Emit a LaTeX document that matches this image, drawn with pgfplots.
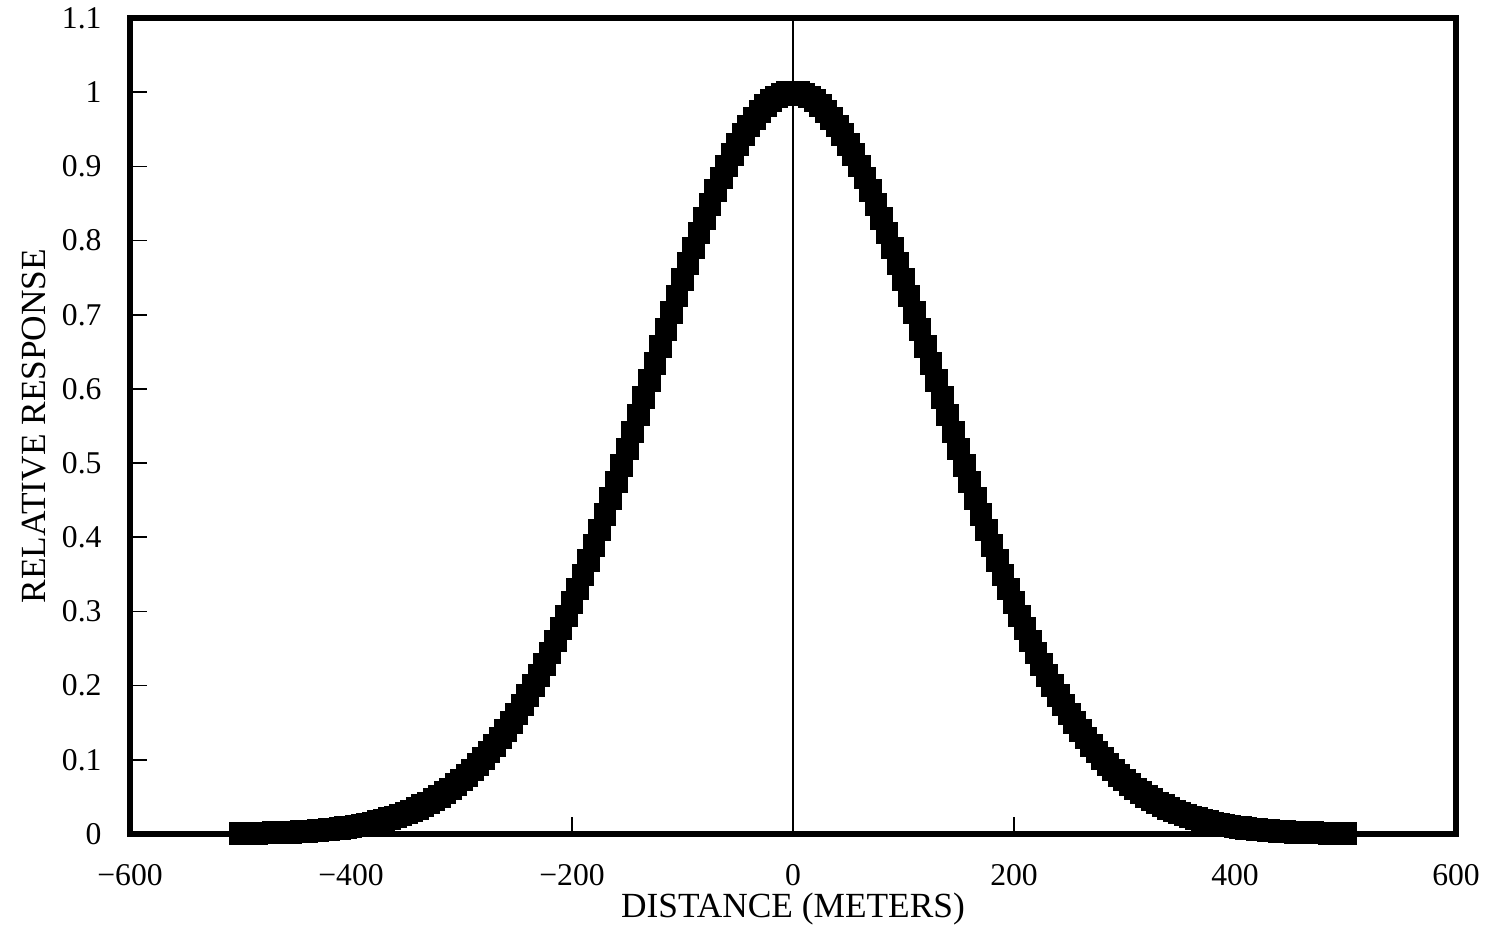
\documentclass[border=0pt]{standalone}
\usepackage{pgfplots}
\usepackage{pgfplotstable}
\pgfplotsset{compat=1.18}
\usepackage{fontspec}
\setmainfont{Liberation Serif}

% response curve, every 5 m
\pgfplotstableread{
x y
-500 0.0007
-495 0.0008
-490 0.0009
-485 0.0011
-480 0.0012
-475 0.0014
-470 0.0016
-465 0.0018
-460 0.0021
-455 0.0024
-450 0.0027
-445 0.0031
-440 0.0036
-435 0.0040
-430 0.0046
-425 0.0052
-420 0.0059
-415 0.0066
-410 0.0075
-405 0.0084
-400 0.0095
-395 0.0106
-390 0.0119
-385 0.0133
-380 0.0149
-375 0.0166
-370 0.0185
-365 0.0206
-360 0.0229
-355 0.0254
-350 0.0282
-345 0.0312
-340 0.0345
-335 0.0380
-330 0.0419
-325 0.0461
-320 0.0506
-315 0.0555
-310 0.0608
-305 0.0665
-300 0.0726
-295 0.0792
-290 0.0863
-285 0.0938
-280 0.1019
-275 0.1104
-270 0.1196
-265 0.1293
-260 0.1395
-255 0.1504
-250 0.1619
-245 0.1740
-240 0.1867
-235 0.2001
-230 0.2141
-225 0.2288
-220 0.2441
-215 0.2601
-210 0.2767
-205 0.2939
-200 0.3118
-195 0.3303
-190 0.3493
-185 0.3689
-180 0.3891
-175 0.4097
-170 0.4308
-165 0.4524
-160 0.4743
-155 0.4966
-150 0.5192
-145 0.5420
-140 0.5649
-135 0.5880
-130 0.6112
-125 0.6343
-120 0.6574
-115 0.6802
-110 0.7029
-105 0.7253
-100 0.7473
-95 0.7688
-90 0.7898
-85 0.8102
-80 0.8299
-75 0.8488
-70 0.8670
-65 0.8842
-60 0.9004
-55 0.9156
-50 0.9298
-45 0.9427
-40 0.9545
-35 0.9649
-30 0.9741
-25 0.9820
-20 0.9884
-15 0.9935
-10 0.9971
-5 0.9993
0 1.0000
5 0.9993
10 0.9971
15 0.9935
20 0.9884
25 0.9820
30 0.9741
35 0.9649
40 0.9545
45 0.9427
50 0.9298
55 0.9156
60 0.9004
65 0.8842
70 0.8670
75 0.8488
80 0.8299
85 0.8102
90 0.7898
95 0.7688
100 0.7473
105 0.7253
110 0.7029
115 0.6802
120 0.6574
125 0.6343
130 0.6112
135 0.5880
140 0.5649
145 0.5420
150 0.5192
155 0.4966
160 0.4743
165 0.4524
170 0.4308
175 0.4097
180 0.3891
185 0.3689
190 0.3493
195 0.3303
200 0.3118
205 0.2939
210 0.2767
215 0.2601
220 0.2441
225 0.2288
230 0.2141
235 0.2001
240 0.1867
245 0.1740
250 0.1619
255 0.1504
260 0.1395
265 0.1293
270 0.1196
275 0.1104
280 0.1019
285 0.0938
290 0.0863
295 0.0792
300 0.0726
305 0.0665
310 0.0608
315 0.0555
320 0.0506
325 0.0461
330 0.0419
335 0.0380
340 0.0345
345 0.0312
350 0.0282
355 0.0254
360 0.0229
365 0.0206
370 0.0185
375 0.0166
380 0.0149
385 0.0133
390 0.0119
395 0.0106
400 0.0095
405 0.0084
410 0.0075
415 0.0066
420 0.0059
425 0.0052
430 0.0046
435 0.0040
440 0.0036
445 0.0031
450 0.0027
455 0.0024
460 0.0021
465 0.0018
470 0.0016
475 0.0014
480 0.0012
485 0.0011
490 0.0009
495 0.0008
500 0.0007
}\response

\begin{document}
\begin{tikzpicture}
\begin{axis}[
    scale only axis,
    width=397.8pt, height=244.8pt,
    xmin=-600, xmax=600,
    ymin=0, ymax=1.1,
    xtick={-600,-400,-200,0,200,400,600},
    xticklabels={−600,−400,−200,0,200,400,600},
    ytick={0,0.1,0.2,0.3,0.4,0.5,0.6,0.7,0.8,0.9,1,1.1},
    yticklabels={0,0.1,0.2,0.3,0.4,0.5,0.6,0.7,0.8,0.9,1,1.1},
    tick pos=left,
    tick align=inside,
    major tick length=5pt,
    tick style={black, line width=0.5pt},
    axis line style={line width=1.6pt},
    ticklabel style={font=\fontsize{9.5}{11}\selectfont},
    xticklabel style={yshift=-5.5pt},
    yticklabel style={xshift=-5pt},
    xlabel={DISTANCE (METERS)},
    ylabel={RELATIVE RESPONSE},
    label style={font=\fontsize{10.6}{12}\selectfont},
    xlabel style={at={(axis description cs:0.5,-0.092)}, anchor=center},
    ylabel style={at={(axis description cs:-0.072,0.5)}, anchor=center},
    clip=false,
]
  \addplot[black, line width=0.8pt] coordinates {(0,0) (0,1.1)};
  \addplot[black, only marks, mark=square*, mark size=3.2pt] table[x=x, y=y] {\response};
  \coordinate (sw) at (rel axis cs:0,0);
  \coordinate (ne) at (rel axis cs:1,1);
\end{axis}
\pgfresetboundingbox
\path[use as bounding box] ([shift={(-39pt,-27.3pt)}]sw) rectangle ([shift={(11.7pt,5.4pt)}]ne);
\end{tikzpicture}
\end{document}
